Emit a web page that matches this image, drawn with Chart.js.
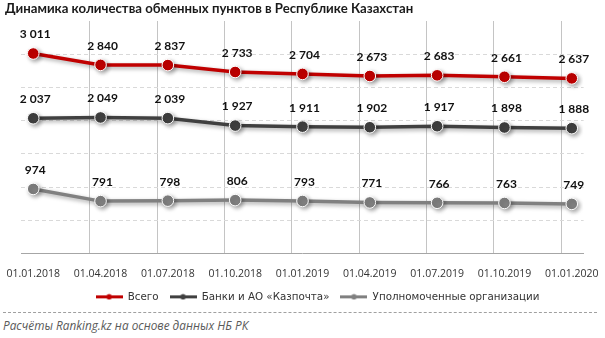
<!DOCTYPE html>
<html>
<head>
<meta charset="utf-8">
<script src="https://cdn.jsdelivr.net/npm/chart.js@4/dist/chart.umd.min.js"></script>
<style>
  html, body { margin: 0; padding: 0; background: #fff; }
  #wrap { position: relative; width: 605px; height: 338px; overflow: hidden; }
  #title {
    position: absolute; left: 5px; top: 0px;
    font: bold 13.2px Lato, "Open Sans", sans-serif; color: #1a1a1a;
    white-space: nowrap;
  }
  #chart { position: absolute; left: 0; top: 0; }
  #note {
    position: absolute; left: 3px; top: 312px; width: 594px;
    border-top: 1px dashed #a0a0a0; padding-top: 4px;
    font: italic 11.8px "Open Sans", sans-serif; color: #5a5a5a;
    white-space: nowrap;
  }
</style>
</head>
<body>
<div id="wrap">
  <canvas id="chart" width="605" height="312"></canvas>
  <div id="title">Динамика количества обменных пунктов в Республике Казахстан</div>
  <div id="note">Расчёты Ranking.kz на основе данных НБ РК</div>
</div>
<script>
// Quarterly dates and counts of exchange offices
const dates = ['01.01.2018', '01.04.2018', '01.07.2018', '01.10.2018', '01.01.2019',
  '01.04.2019', '01.07.2019', '01.10.2019', '01.01.2020'];
const total = [3011, 2840, 2837, 2733, 2704, 2673, 2683, 2661, 2637];
const banks = [2037, 2049, 2039, 1927, 1911, 1902, 1917, 1898, 1888];
const authorized = [974, 791, 798, 806, 793, 771, 766, 763, 749];

const seriesNames = ['Всего', 'Банки и АО «Казпочта»', 'Уполномоченные организации'];
const seriesColors = ['#c00000', '#404040', '#808080'];
const seriesData = [total, banks, authorized];

// legend symbol: thick line with a small dot in the middle
function legendMark(color) {
  const c = document.createElement('canvas');
  c.width = 27; c.height = 7;
  const g = c.getContext('2d');
  g.strokeStyle = color; g.lineWidth = 3;
  g.beginPath(); g.moveTo(0, 3.5); g.lineTo(27, 3.5); g.stroke();
  g.fillStyle = color;
  g.beginPath(); g.arc(13.5, 3.5, 2.8, 0, Math.PI * 2); g.fill();
  return c;
}

function fmt(v) {
  return String(v).replace(/\B(?=(\d{3})+(?!\d))/g, ' ');
}

// soft drop shadow under lines and markers
const shadowPlugin = {
  id: 'shadow',
  beforeDatasetsDraw(chart) {
    const ctx = chart.ctx;
    ctx.save();
    ctx.shadowColor = 'rgba(0,0,0,0.35)';
    ctx.shadowBlur = 4;
    ctx.shadowOffsetX = 2;
    ctx.shadowOffsetY = 2;
  },
  afterDatasetsDraw(chart) {
    chart.ctx.restore();
  }
};

// value labels above each point
const valueLabels = {
  id: 'valueLabels',
  afterDatasetsDraw(chart) {
    const ctx = chart.ctx;
    ctx.save();
    ctx.font = 'bold 12px Lato, "Open Sans", sans-serif';
    ctx.fillStyle = '#111';
    ctx.textAlign = 'center';
    ctx.textBaseline = 'middle';
    seriesData.forEach((vals, i) => {
      chart.getDatasetMeta(i).data.forEach((pt, j) => {
        ctx.fillText(fmt(vals[j]), pt.x + 2, pt.y - 19);
      });
    });
    ctx.restore();
  }
};

// legend row sits a bit right of centre
const legendShift = {
  id: 'legendShift',
  afterLayout(chart) {
    if (chart.legend) {
      chart.legend.left += 16;
      chart.legend.right += 16;
    }
  }
};

const datasets = seriesData.map((d, i) => ({
  label: seriesNames[i],
  data: d.map((v, j) => ({ x: j, y: v })),
  borderColor: seriesColors[i],
  backgroundColor: seriesColors[i],
  borderWidth: 3.5,
  pointRadius: 5.8,
  pointBorderColor: '#fff',
  pointBorderWidth: 1,
  pointStyle: 'circle',
  legendMark: legendMark(seriesColors[i]),
  tension: 0
}));

new Chart(document.getElementById('chart'), {
  type: 'line',
  data: { datasets },
  options: {
    responsive: false,
    animation: false,
    layout: { padding: { left: 17, right: 19, top: 21, bottom: 0 } },
    scales: {
      x: {
        type: 'linear',
        min: -0.176, max: 8.176,
        afterBuildTicks: s => { s.ticks = dates.map((_, i) => ({ value: i })); },
        afterFit: s => { s.height = 27; },
        ticks: {
          callback: v => dates[v],
          font: { size: 10.5, family: '"Open Sans", sans-serif' },
          color: '#333',
          padding: 6,
          maxRotation: 0,
          autoSkip: false
        },
        grid: { display: false },
        border: { display: true, color: '#a6a6a6', width: 1 }
      },
      xGrid: {
        type: 'linear',
        position: 'top',
        min: -0.176, max: 8.176,
        afterBuildTicks: s => { s.ticks = dates.slice(1).map((_, i) => ({ value: i + 1 - 0.16 })); },
        afterFit: s => { s.height = 0; },
        ticks: { display: false },
        grid: { color: '#c4c4c4', drawTicks: false },
        border: { display: false }
      },
      y: {
        min: 0, max: 3500,
        afterFit: s => { s.width = 0; },
        ticks: { display: false, stepSize: 500 },
        grid: {
          drawTicks: false,
          color: c => (c.tick.value === 0 || c.tick.value === 3500) ? 'rgba(0,0,0,0)' : '#d9d9d9'
        },
        border: { display: false, dash: [4, 3] }
      }
    },
    plugins: {
      title: { display: false },
      tooltip: { enabled: false },
      legend: {
        position: 'bottom',
        labels: {
          usePointStyle: true,
          pointStyleWidth: 27,
          padding: 11,
          color: '#333',
          font: { size: 10.3, family: '"DejaVu Sans", sans-serif' },
          generateLabels: chart => chart.data.datasets.map((ds, i) => ({
            text: ds.label,
            pointStyle: ds.legendMark,
            fillStyle: ds.borderColor,
            strokeStyle: ds.borderColor,
            lineWidth: 0,
            fontColor: '#333',
            datasetIndex: i
          }))
        }
      }
    }
  },
  plugins: [shadowPlugin, valueLabels, legendShift]
});
</script>
</body>
</html>
